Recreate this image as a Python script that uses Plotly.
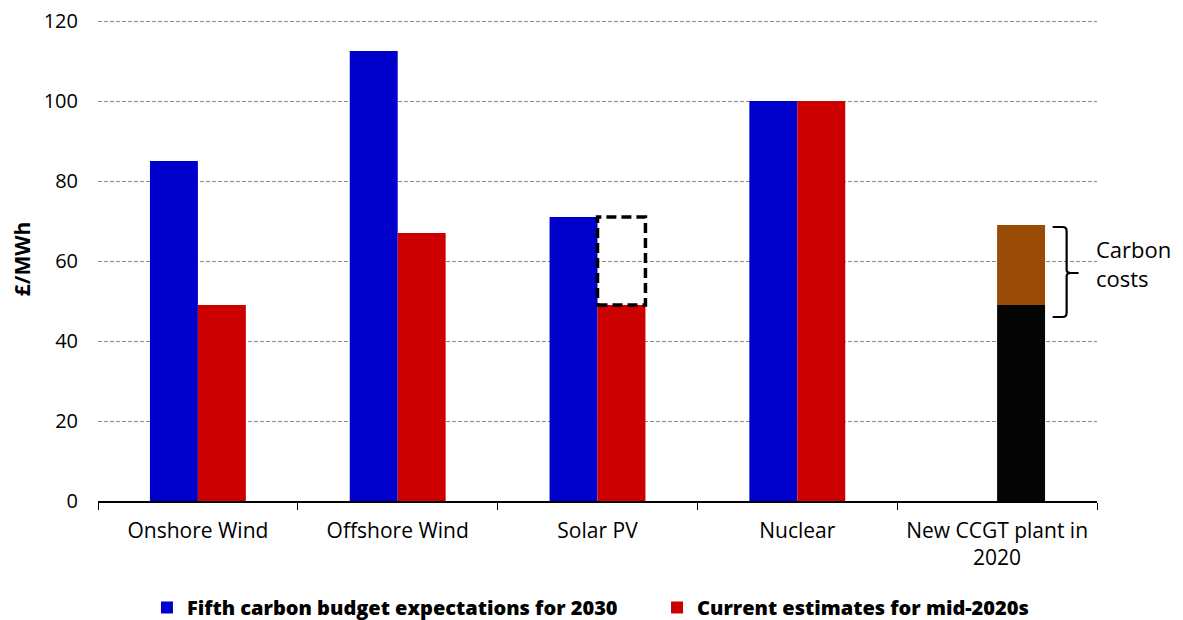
import plotly.graph_objects as go

categories = ["Onshore Wind", "Offshore Wind", "Solar PV", "Nuclear", "New CCGT plant in<br>2020"]
fifth_budget_2030 = [85, 112.5, 71, 100, None]
current_mid2020s = [49, 67, 49, 100, None]
ccgt_base = [None, None, None, None, 49]
ccgt_carbon = [None, None, None, None, 20]
y_ticks = [0, 20, 40, 60, 80, 100, 120]

BLUE = "#0000CC"
RED = "#CC0000"
BLACK = "#050505"
BROWN = "#994A05"
FONT = "Open Sans"

W = 0.24
fig = go.Figure()
fig.add_trace(go.Bar(x=categories, y=fifth_budget_2030, name="Fifth carbon budget expectations for 2030",
                     marker=dict(color=BLUE, line=dict(width=0)), width=W, offset=-W, legend="legend"))
fig.add_trace(go.Bar(x=categories, y=current_mid2020s, name="Current estimates for mid-2020s",
                     marker=dict(color=RED, line=dict(width=0)), width=W, offset=0, legend="legend2"))
fig.add_trace(go.Bar(x=categories, y=ccgt_base, showlegend=False,
                     marker=dict(color=BLACK, line=dict(width=0)), width=W, offset=0))
fig.add_trace(go.Bar(x=categories, y=ccgt_carbon, base=ccgt_base, showlegend=False,
                     marker=dict(color=BROWN, line=dict(width=0)), width=W, offset=0))

# dashed box over Solar PV showing the gap
fig.add_shape(type="rect", xref="x", yref="y", x0=2, x1=2 + W,
              y0=current_mid2020s[2], y1=fifth_budget_2030[2],
              line=dict(color="black", width=3.5, dash="10px,5px"), fillcolor="rgba(0,0,0,0)", layer="above")

# brace for carbon costs
top = 68.5
bot = 46
mid = 57
xv = 4.348
xl = 4.278
xt = 4.408
fig.add_shape(type="path", xref="x", yref="y",
              path=(f"M {xl},{top} L {xv-0.02},{top} Q {xv},{top} {xv},{top-1} L {xv},{mid+0.8} "
                    f"Q {xv},{mid} {xv+0.02},{mid} L {xt},{mid} M {xv+0.02},{mid} "
                    f"Q {xv},{mid} {xv},{mid-0.8} L {xv},{bot+1} Q {xv},{bot} {xv-0.02},{bot} L {xl},{bot}"),
              line=dict(color="black", width=2.2))
n_cat = len(categories)
fig.add_annotation(x=(4.503 + 0.5) / n_cat, y=mid + 2.5, xref="paper", yref="y", text="Carbon<br>costs",
                   showarrow=False, xanchor="left", yanchor="middle", align="left", xshift=-4,
                   font=dict(family=FONT, size=22, color="black"))

legend_style = dict(orientation="h", xanchor="left", y=-0.22, yanchor="middle",
                    font=dict(family=FONT, size=20, color="black", weight=800),
                    itemwidth=30, bgcolor="rgba(0,0,0,0)")

fig.update_layout(
    width=1175, height=612,
    margin=dict(l=90, r=86, t=9, b=119, autoexpand=False),
    barmode="overlay",
    plot_bgcolor="white", paper_bgcolor="white",
    font=dict(family=FONT, size=20, color="black"),
    showlegend=True,
    legend=dict(x=0.049, **legend_style),
    legend2=dict(x=0.5596, **legend_style),
)
fig.update_xaxes(showline=True, linecolor="black", linewidth=1.5, ticks="outside", ticklen=7,
                 tickcolor="black", tickson="boundaries", showgrid=False, automargin=False,
                 ticklabelstandoff=10,
                 tickfont=dict(family=FONT, size=21), range=[-0.5, 4.5])
fig.update_yaxes(range=[0, 121], tickvals=y_ticks, showgrid=True, gridcolor="#8a8a8a",
                 griddash="4px,2px", gridwidth=1, zeroline=False, showline=False, automargin=False,
                 ticks="", tickfont=dict(family=FONT, size=20), ticklabelstandoff=19,
                 ticklabeloverflow="allow",
                 title=dict(text="<b>£/MWh</b>", font=dict(family=FONT, size=21), standoff=16))

fig.write_html("out.html")
